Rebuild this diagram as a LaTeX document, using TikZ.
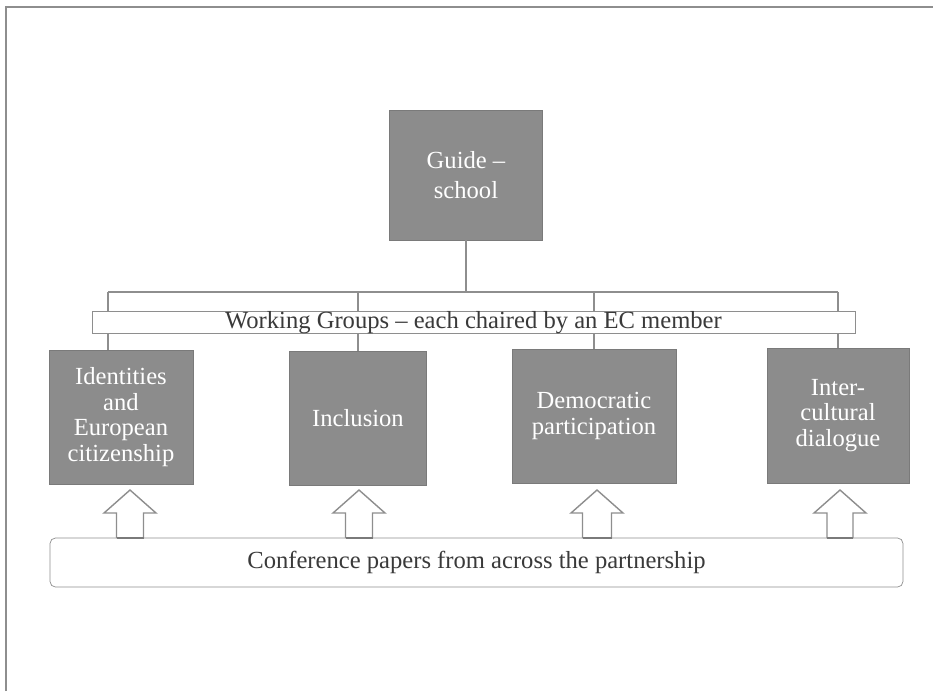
\documentclass[tikz,border=0pt]{standalone}
\usepackage{fontspec}
\setmainfont{Liberation Serif}
\usetikzlibrary{positioning,calc}
\definecolor{BoxGray}{HTML}{8C8C8C}
\definecolor{EdgeGray}{HTML}{7A7A7A}
\definecolor{LineGray}{HTML}{8E8E8E}
\definecolor{TextGray}{HTML}{3A3A3A}

\begin{document}
\begin{tikzpicture}[x=0.02cm, y=-0.02cm,
    topic/.style={fill=BoxGray, draw=EdgeGray, text=white, align=center,
        inner sep=2pt, font=\fontsize{14}{14.5}\selectfont},
    bar/.style={draw=LineGray, line width=1.2pt},
    strip/.style={draw=LineGray, fill=white, font=\fontsize{14}{16}\selectfont, text=TextGray}]
    \useasboundingbox (0,0) rectangle (933,691);

    % Page frame (left and top edges only)
    \draw[LineGray, line width=0.9pt] (6,691) -- (6,7) -- (933,7);

    % Guide box
    \node[topic, minimum width=3.06cm, minimum height=2.6cm,
        font=\fontsize{14}{17}\selectfont] (guide) at (466,175) {Guide --\\school};

    % Working group boxes
    \node[topic, minimum width=2.88cm, minimum height=2.68cm] (ident) at (121,417)
        {Identities\\and\\European\\citizenship};
    \node[topic, minimum width=2.74cm, minimum height=2.68cm] (incl) at (358,418) {Inclusion};
    \node[topic, minimum width=3.28cm, minimum height=2.68cm] (demo) at (594,416)
        {Democratic\\participation};
    \node[topic, minimum width=2.84cm, minimum height=2.7cm] (inter) at (838,415.5)
        {Inter-\\cultural\\dialogue};

    % Tree lines
    \coordinate (hub) at (466,292);
    \coordinate (left) at (108,292);
    \coordinate (right) at (838,292);
    \draw[bar] (guide.south) -- (hub);
    \draw[bar] (left) -- (right);
    \draw[bar] (left) -- (left |- ident.north);
    \draw[bar] (incl.north |- hub) -- (incl.north);
    \draw[bar] (demo.north |- hub) -- (demo.north);
    \draw[bar] (right) -- (inter.north);

    % Working groups banner
    \node[strip, minimum width=15.26cm, minimum height=0.42cm, inner sep=0pt] (groups) at (473.5,322.5)
        {Working Groups -- each chaired by an EC member};

    % Conference papers box
    \node[strip, rounded corners=3pt, minimum width=17.06cm, minimum height=0.98cm] (papers) at (476.5,562.5)
        {Conference papers from across the partnership};

    % Block arrows up into each box
    \foreach \x/\w in {130/13.5, 359/13.5, 597/14.5, 840/13} {
        \draw[LineGray, line width=0.8pt, fill=white]
            (\x-\w,538) -- (\x-\w,513) -- (\x-26,513) -- (\x,490) -- (\x+26,513)
            -- (\x+\w,513) -- (\x+\w,538);
        \draw[EdgeGray, line width=1.6pt] (\x-\w,538) -- (\x+\w,538);
    }

\end{tikzpicture}
\end{document}
